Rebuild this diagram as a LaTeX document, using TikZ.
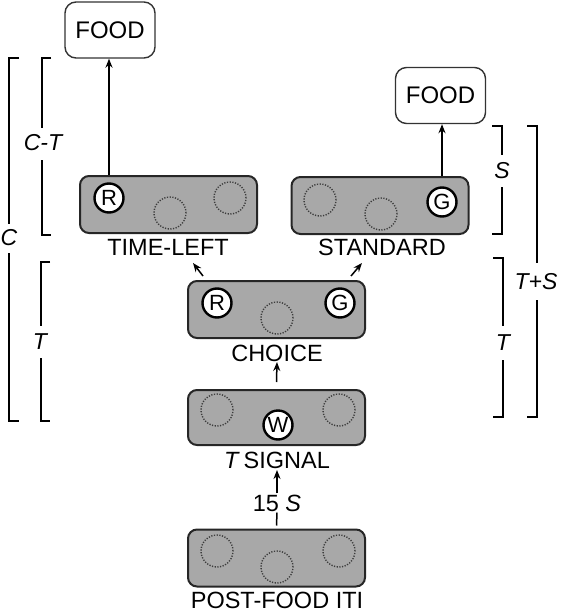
\documentclass[tikz,border=0pt]{standalone}
\usepackage{fontspec}
\setmainfont{Liberation Sans}
\usetikzlibrary{arrows.meta}
\definecolor{boxgray}{RGB}{168,168,168}
\definecolor{dotgray}{RGB}{60,60,60}
\begin{document}
\begin{tikzpicture}[x=1pt,y=-1pt,
  stage/.style={draw=black!85, line width=2pt, fill=boxgray, rounded corners=9pt, minimum width=177pt, minimum height=57pt, inner sep=0pt},
  food/.style={draw=black!80, line width=1.4pt, fill=white, rounded corners=11pt, minimum width=90pt, minimum height=56pt, font=\fontsize{24}{26}\selectfont},
  lit/.style={circle, draw, line width=2.4pt, fill=white, minimum size=29pt, inner sep=0pt, font=\fontsize{22}{24}\selectfont},
  dark/.style={circle, draw=dotgray, line width=1.4pt, dash pattern=on 1.2pt off 1.5pt, minimum size=32pt, inner sep=0pt},
  lab/.style={font=\fontsize{23.5}{25}\selectfont, inner sep=1pt},
  brk/.style={line width=1.6pt},
  blab/.style={font=\fontsize{23}{25}\selectfont\itshape, inner sep=0pt},
  arr/.style={line width=1.5pt, -{Stealth[length=9pt,width=7pt]}}
]
\useasboundingbox (0,0) rectangle (562,613);

% food boxes
\node[food] (foodL) at (110,30) {FOOD};
\node[food] (foodR) at (440.5,95.5) {FOOD};

% stages
\node[stage] (tl) at (168.5,204.5) {};
\node[stage] (st) at (380,205.5) {};
\node[stage] (ch) at (276.5,309.5) {};
\node[stage, minimum height=55pt] (ts) at (276.5,417.5) {};
\node[stage] (pf) at (276.5,558) {};

% keys in TIME-LEFT
\node[lit] (tlR) at (109,198) {R};
\node[dark] (tl2) at (170,213) {};
\node[dark] (tl3) at (230,198) {};
% keys in STANDARD
\node[dark] (st1) at (320,200) {};
\node[dark] (st2) at (381,214) {};
\node[lit] (stG) at (442,202) {G};
% keys in CHOICE
\node[lit] (chR) at (217,303) {R};
\node[dark] (ch2) at (277,318) {};
\node[lit] (chG) at (340,303) {G};
% keys in T SIGNAL
\node[dark] (ts1) at (217,410) {};
\node[lit] (tsW) at (278,425) {W};
\node[dark] (ts3) at (339,410) {};
% keys in POST-FOOD ITI
\node[dark] (pf1) at (217,551) {};
\node[dark] (pf2) at (277,567) {};
\node[dark] (pf3) at (339,551) {};

% labels
\node[lab] (tlL) at (168,247) {TIME-LEFT};
\node[lab] (stL) at (382,247) {STANDARD};
\node[lab] (chL) at (277,353) {CHOICE};
\node[lab] (tsL) at (277,460) {\textit{T}\,SIGNAL};
\node[lab, anchor=base] (pfL) at (277,608) {POST-FOOD ITI};
\node[lab] (fs) at (277,503) {15 \textit{S}};

% arrows
\draw[arr] (tl.north -| tlR) -- (foodL.south -| tlR);
\draw[arr] (st.north -| stG) -- (foodR.south -| stG);
\coordinate (cl1) at (203,276);
\coordinate (cl2) at (193,263);
\coordinate (cr1) at (351,276);
\coordinate (cr2) at (362,263);
\draw[arr] (cl1) -- (cl2);
\draw[arr] (cr1) -- (cr2);
\draw[arr] ([yshift=7pt]ts.north) -- ([yshift=-9pt]chL.center);
\draw[arr] (fs.north) -- ([yshift=-10pt]tsL.center);
\draw[line width=1.5pt] ([yshift=3pt]pf.north) -- (fs.south);

% left brackets
\draw[brk] (19,58) -- (9,58) -- (9,224);
\draw[brk] (9,253) -- (9,421) -- (19,421);
\node[blab] at (9,238) {C};
\draw[brk] (51,58) -- (42,58) -- (42,128);
\draw[brk] (42,160) -- (42,235) -- (51,235);
\node[blab] at (43,143) {C-T};
\draw[brk] (50,262) -- (41,262) -- (41,326);
\draw[brk] (41,358) -- (41,421) -- (50,421);
\node[blab] at (40,342) {T};

% right brackets
\draw[brk] (492,126) -- (502,126) -- (502,155);
\draw[brk] (502,187) -- (502,234) -- (492,234);
\node[blab] at (502,171) {S};
\draw[brk] (493,258) -- (503,258) -- (503,326);
\draw[brk] (503,360) -- (503,417) -- (493,417);
\node[blab] at (503,343) {T};
\draw[brk] (527,126) -- (537,126) -- (537,263);
\draw[brk] (537,300) -- (537,417) -- (527,417);
\node[blab] at (536,282) {T+S};
\end{tikzpicture}
\end{document}
